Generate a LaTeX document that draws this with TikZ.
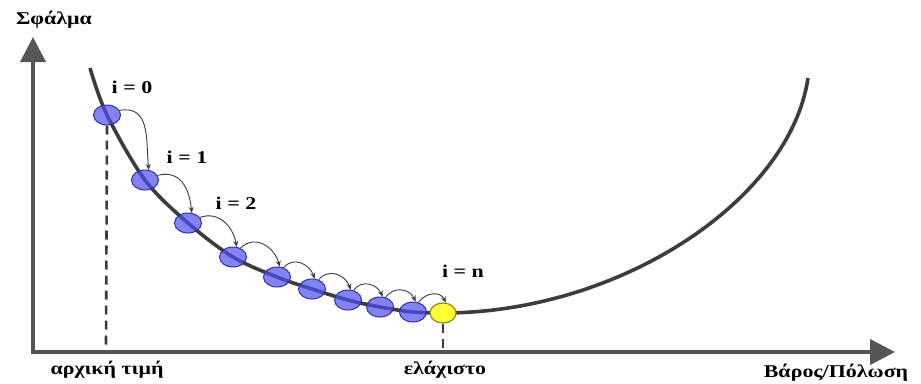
\documentclass[tikz,border=0pt]{standalone}
\usepackage{fontspec}
\setmainfont{Liberation Serif}
\usetikzlibrary{arrows.meta,shapes.geometric}
\definecolor{axisgray}{HTML}{555555}
\definecolor{curvegray}{HTML}{3C3C3C}
\definecolor{ballblue}{HTML}{4E4EF2}
\definecolor{balledge}{HTML}{3030A0}
\definecolor{ballyellow}{HTML}{FFFF33}
\definecolor{yedge}{HTML}{8A8A1A}
\tikzset{
  axis/.style={draw=axisgray, line width=4pt, -{Triangle[length=25pt,width=25pt]}},
  costcurve/.style={draw=curvegray, line width=3.6pt},
  ball/.style={ellipse, minimum width=27pt, minimum height=20pt, inner sep=0pt,
    draw=balledge, line width=1pt, fill=ballblue, fill opacity=0.7},
  goal/.style={ellipse, minimum width=26pt, minimum height=20pt, inner sep=0pt,
    draw=yedge, line width=1.2pt, fill=ballyellow},
  hop/.style={draw=curvegray, line width=0.9pt, -{Stealth[length=6pt,width=5pt]}},
  guide/.style={draw=curvegray, line width=2.6pt, dash pattern=on 9pt off 6pt},
  lbl/.style={font=\fontsize{18}{18}\selectfont\bfseries, inner sep=0pt, xscale=1.22, transform shape},
}
\begin{document}
\begin{tikzpicture}[x=1pt,y=-1pt]
\useasboundingbox (0,0) rectangle (921,383);
\coordinate (O) at (33,352);
\coordinate (ytip) at (33,37);
\coordinate (xtip) at (895,352);
% cost curve
\draw[costcurve] plot[smooth, tension=0.55] coordinates {
 (90,68) (107,115) (145,180) (188,223) (233,257) (277,277) (312,289) (348,300)
 (380,307) (413,312) (443,313)};
\draw[costcurve] (441,313) -- (443,313) .. controls (620,313) and (790,200) .. (808,78);
% axes
\draw[axis] (O) -- (ytip);
\draw[axis] ([xshift=-2pt]O) -- (xtip);
% balls
\node[ball] (b0) at (107,115) {};
\node[ball] (b1) at (145,180) {};
\node[ball] (b2) at (188,223) {};
\node[ball] (b3) at (233,257) {};
\node[ball] (b4) at (277,277) {};
\node[ball] (b5) at (312,289) {};
\node[ball] (b6) at (348,300) {};
\node[ball] (b7) at (380,307) {};
\node[ball] (b8) at (413,312) {};
\node[goal] (bn) at (443,313) {};
% guides
\coordinate (g0) at (106,348);
\coordinate (gn) at (443,348);
\draw[guide] (b0.south) -- (g0);
\draw[guide] (bn.south) -- (gn);
% hops
\draw[hop] (b0.20) to[out=10,in=95,looseness=1.2] (b1.70);
\draw[hop] (b1.20) to[out=15,in=95,looseness=1.2] (b2.70);
\draw[hop] (b2.25) to[out=20,in=100,looseness=1.1] (b3.70);
\draw[hop] (b3.50) to[out=45,in=105,looseness=1.2] (b4.75);
\draw[hop] (b4.55) to[out=50,in=110,looseness=1.2] (b5.75);
\draw[hop] (b5.55) to[out=50,in=110,looseness=1.2] (b6.75);
\draw[hop] (b6.60) to[out=55,in=115,looseness=1.2] (b7.75);
\draw[hop] (b7.60) to[out=55,in=115,looseness=1.2] (b8.75);
\draw[hop] (b8.60) to[out=55,in=115,looseness=1.2] (bn.75);
% labels
\node[lbl] (l0) at (132,87) {i = 0};
\node[lbl] (l1) at (187,157) {i = 1};
\node[lbl] (l2) at (236,203) {i = 2};
\node[lbl] (ln) at (463,271) {i = n};
\node[lbl] (ylab) at (54,20) {Σφάλμα};
\node[lbl] (xlab) at (836,373) {Βάρος/Πόλωση};
\node[lbl] (start) at (107,370) {αρχική τιμή};
\node[lbl] (min) at (445,370) {ελάχιστο};
\end{tikzpicture}
\end{document}
